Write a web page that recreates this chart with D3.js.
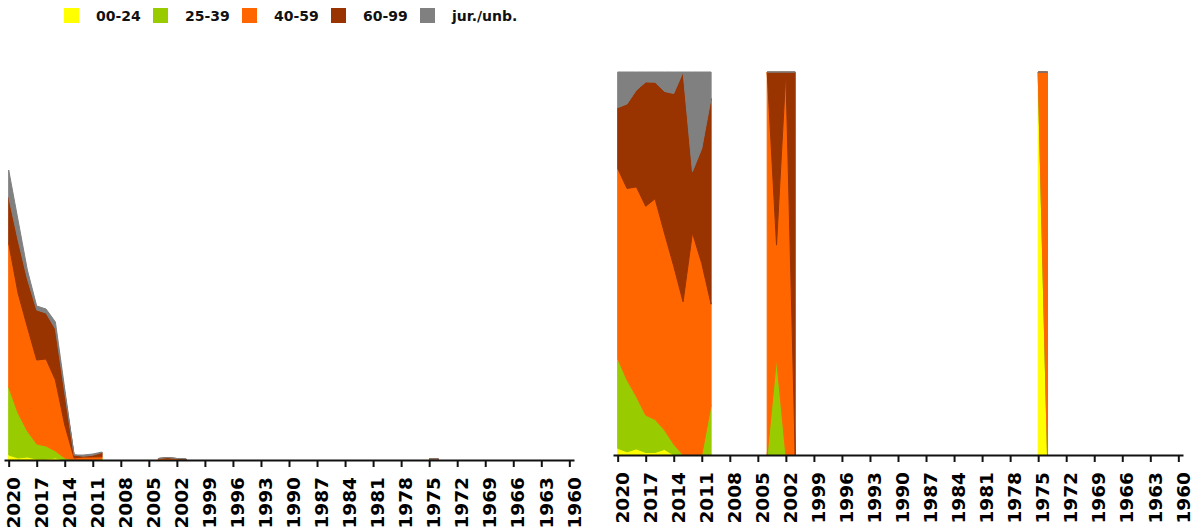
<!DOCTYPE html>
<html>
<head>
<meta charset="utf-8">
<script src="https://cdnjs.cloudflare.com/ajax/libs/d3/7.8.5/d3.min.js"></script>
<style>
  body { margin: 0; background: #fff; }
  text { font-family: "DejaVu Sans", Verdana, sans-serif; font-weight: bold; }
</style>
</head>
<body>
<div id="chart"></div>
<script>
// years that have entries, newest first
const years = [2020, 2019, 2018, 2017, 2016, 2015, 2014, 2013, 2012, 2011, 2010,
               2004, 2003, 2002, 2001, 1975, 1974];
const age0024 = [5, 2, 3, 1, 1, 2, 0, 0, 0, 0, 0,       0, 0, 0, 0,    1, 0];
const age2539 = [68, 45, 26, 15, 13, 7, 2, 0, 0, 0, 1.05, 0, 0.63, 0, 0, 0, 0];
const age4059 = [144, 120, 104, 84, 87, 71, 33, 2, 2.9, 3, 2.1, 1.5, 0.74, 1.5, 0, 0, 1];
const age6099 = [46, 53, 48, 50, 46, 51, 32, 3, 0.8, 1.8, 4.3, 0, 1.13, 0, 1, 0, 0];
const jurUnb  = [27, 20, 9, 4, 4, 7, 4, 0, 1.3, 1.2, 0.55, 0, 0, 0, 0, 0, 0];

const keys = ["00-24", "25-39", "40-59", "60-99", "jur./unb."];
const colors = ["#ffff00", "#99cc00", "#ff6600", "#993300", "#808080"];
const tickYears = d3.range(2020, 1959, -3);

// full year table, missing years are zero
function buildTable() {
  let series = [age0024, age2539, age4059, age6099, jurUnb];
  return d3.range(2020, 1959, -1).map(yr => {
    let row = {year: yr};
    let i = years.indexOf(yr);
    keys.forEach((k, j) => row[k] = i < 0 ? 0 : series[j][i]);
    row.total = d3.sum(keys, k => row[k]);
    return row;
  });
}

function getConfig() {
  let svg = d3.select("#chart").append("svg")
    .attr("width", 1202)
    .attr("height", 532);
  let left = {x0: 4, x1: 574, base: 460, top: 60, yMax: 400};
  let right = {x0: 613, x1: 1183, base: 455, top: 72, yMax: 1};
  return {svg, left, right};
}

function drawPanel(svg, table, panel, offset) {
  let xScale = d3.scaleLinear()
    .domain([2020.5, 1959.5])
    .range([panel.x0, panel.x1]);
  let yScale = d3.scaleLinear()
    .domain([0, panel.yMax])
    .range([panel.base, panel.top]);

  let stacked = d3.stack().keys(keys).offset(offset)(table);

  let area = d3.area()
    .defined(d => d.data.total > 0)
    .x(d => xScale(d.data.year))
    .y0(d => yScale(d[0]))
    .y1(d => yScale(d[1]));

  svg.append("g")
    .selectAll("path")
    .data(stacked)
    .join("path")
      .attr("d", area)
      .attr("fill", (d, i) => colors[i])
      .attr("stroke", (d, i) => colors[i])
      .attr("stroke-width", 1);

  let axis = svg.append("g")
    .attr("transform", "translate(0," + panel.base + ")")
    .call(d3.axisBottom(xScale)
      .tickValues(tickYears)
      .tickFormat(d3.format("d"))
      .tickSize(7)
      .tickSizeOuter(0));
  axis.select(".domain").attr("stroke", "#111").attr("stroke-width", 2);
  axis.selectAll(".tick line").attr("stroke", "#111").attr("stroke-width", 2);
  axis.selectAll("text")
    .attr("transform", "rotate(-90)")
    .attr("x", -17)
    .attr("y", 0)
    .attr("dy", "0.58em")
    .style("text-anchor", "end")
    .style("font-size", "18.5px")
    .attr("fill", "#000");
}

function drawLegend(svg) {
  let item = svg.append("g")
    .selectAll("g")
    .data(keys)
    .join("g")
      .attr("transform", (d, i) => "translate(" + (64 + i * 89) + ",8)");
  item.append("rect")
    .attr("width", 15)
    .attr("height", 15)
    .attr("fill", (d, i) => colors[i]);
  item.append("text")
    .attr("x", 32)
    .attr("y", 13)
    .style("font-size", "14px")
    .attr("fill", "#111")
    .text(d => d);
}

let table = buildTable();
let config = getConfig();
drawLegend(config.svg);
drawPanel(config.svg, table, config.left, d3.stackOffsetNone);
drawPanel(config.svg, table, config.right, d3.stackOffsetExpand);
</script>
</body>
</html>
